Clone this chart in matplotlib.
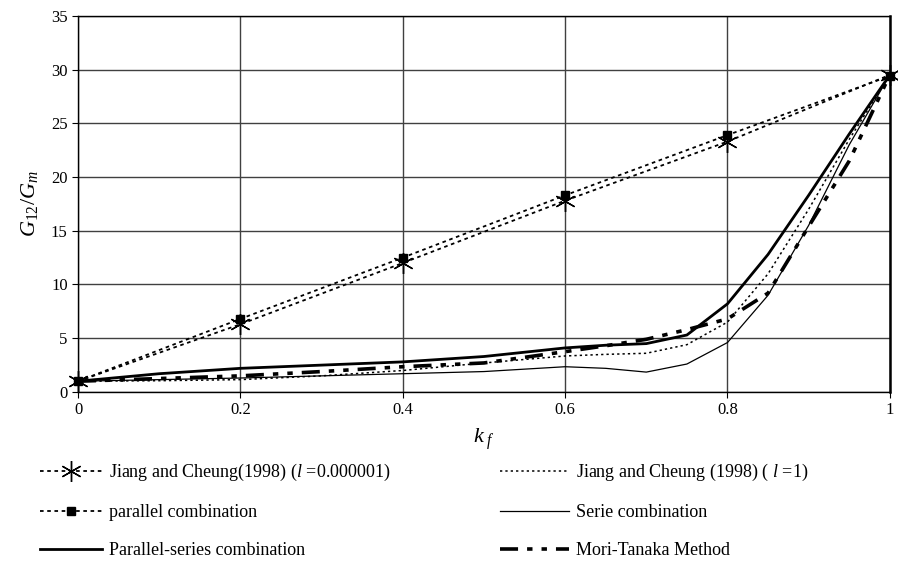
import matplotlib
matplotlib.use("Agg")
import matplotlib.pyplot as plt

plt.rcParams['font.family'] = ['Liberation Serif', 'DejaVu Serif']
plt.rcParams['mathtext.fontset'] = 'custom'
plt.rcParams['mathtext.rm'] = 'Liberation Serif'
plt.rcParams['mathtext.it'] = 'Liberation Serif:italic'

# upper curves (marked points)
kf_pts = [0, 0.2, 0.4, 0.6, 0.8, 1.0]
jiang_small = [1.0, 6.3, 12.0, 17.8, 23.3, 29.5]
parallel = [1.0, 6.8, 12.5, 18.3, 23.9, 29.4]

# lower curves
kf = [0, 0.1, 0.2, 0.3, 0.4, 0.5, 0.6, 0.65, 0.7, 0.75, 0.8, 0.85, 0.9, 0.95, 1.0]
jiang_one = [1.0, 1.05, 1.15, 1.5, 2.0, 2.7, 3.35, 3.5, 3.6, 4.4, 6.5, 11.0, 17.0, 23.5, 29.5]
serie = [1.0, 1.15, 1.3, 1.5, 1.7, 1.9, 2.35, 2.2, 1.85, 2.6, 4.6, 9.0, 15.5, 23.0, 29.5]
par_series = [1.0, 1.7, 2.2, 2.5, 2.8, 3.3, 4.1, 4.35, 4.5, 5.3, 8.2, 12.8, 18.3, 24.0, 29.5]
mori = [1.0, 1.25, 1.5, 1.9, 2.35, 2.7, 3.75, 4.3, 4.9, 5.8, 6.8, 9.2, 15.4, 21.5, 29.5]

fig = plt.figure(figsize=(8.98, 5.64), dpi=100)
ax = fig.add_axes([0.0869, 0.305, 0.904, 0.667])

star = (6, 2, 0)
l1, = ax.plot(kf_pts, jiang_small, color='black', lw=1.3, linestyle=(0, (2, 2)),
              marker=star, markersize=15, markeredgewidth=1.0, clip_on=False,
              label='Jiang and Cheung(1998) ($l$ =0.000001)')
l2, = ax.plot(kf_pts, parallel, color='black', lw=1.3, linestyle=(0, (2, 2)),
              marker='s', markersize=6, clip_on=False,
              label='parallel combination')
l3, = ax.plot(kf, par_series, color='black', lw=2.0,
              label='Parallel-series combination')
l4, = ax.plot(kf, jiang_one, color='black', lw=1.1, linestyle=(0, (1.5, 2)),
              label='Jiang and Cheung (1998) ( $l$ =1)')
l5, = ax.plot(kf, serie, color='black', lw=0.9,
              label='Serie combination')
l6, = ax.plot(kf, mori, color='black', lw=2.6, linestyle=(0, (5, 2.5, 1.5, 2.5, 1.5, 2.5)),
              label='Mori-Tanaka Method')

ax.set_xlim(0, 1)
ax.set_ylim(0, 35)
ax.set_xticks([0, 0.2, 0.4, 0.6, 0.8, 1.0])
ax.set_xticklabels(['0', '0.2', '0.4', '0.6', '0.8', '1'])
ax.set_yticks(range(0, 40, 5))
ax.grid(True, color='#404040', lw=1.0)
ax.set_axisbelow(True)
ax.tick_params(labelsize=12, direction='out', length=4, color='black')
for s in ax.spines.values():
    s.set_color('black')
    s.set_linewidth(1.0)
ax.spines['right'].set_linewidth(1.8)

ax.set_xlabel('$k_{\\ f}$', fontsize=16, labelpad=6)
ax.set_ylabel('$G_{12}/G_m$', fontsize=16, labelpad=8)

leg_kw = dict(loc='upper left', frameon=False, fontsize=13,
              handletextpad=0.4, labelspacing=1.15)
fig.legend(handles=[l1, l2, l3], bbox_to_anchor=(0.027, 0.209),
           handlelength=3.4, **leg_kw)
fig.legend(handles=[l4, l5, l6], bbox_to_anchor=(0.539, 0.209),
           handlelength=3.8, **leg_kw)

fig.savefig('out.png', dpi=100)
